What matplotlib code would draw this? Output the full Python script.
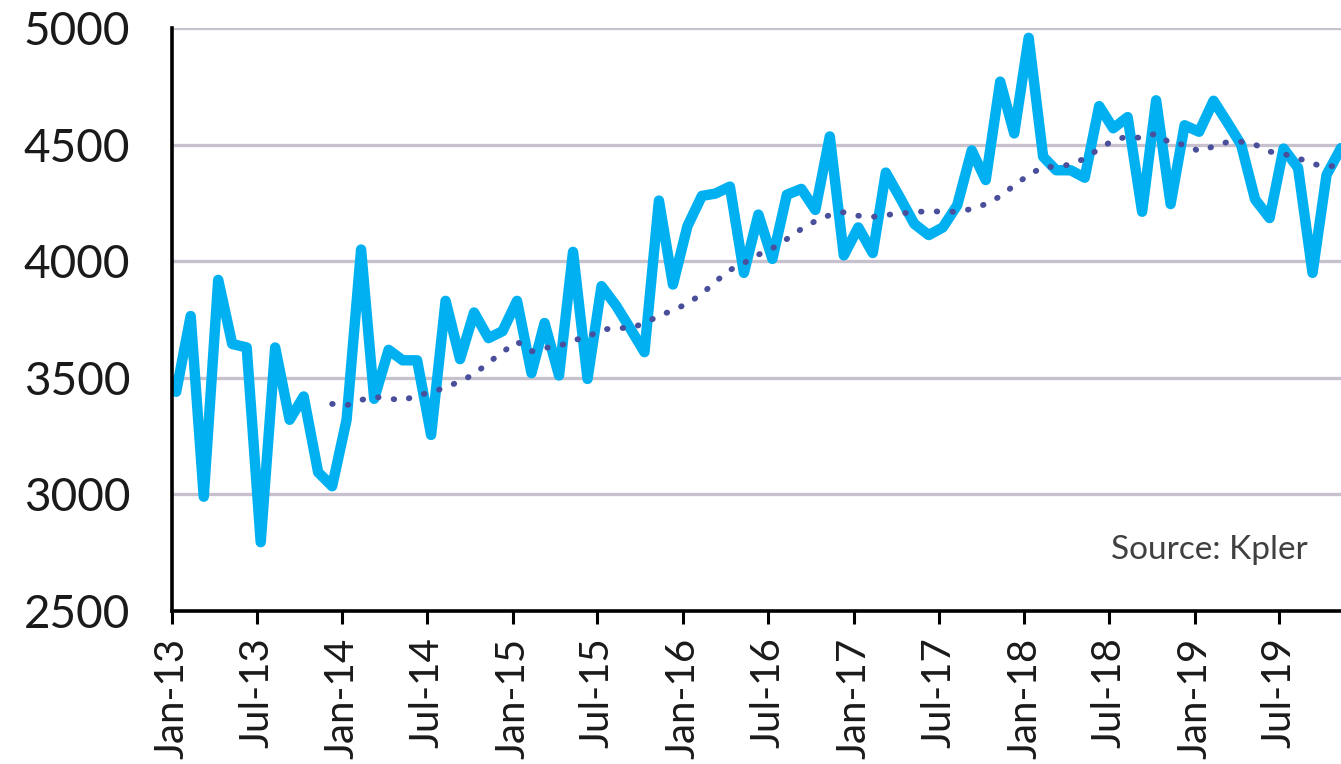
import matplotlib
matplotlib.use("Agg")
import matplotlib.pyplot as plt
import matplotlib.dates as mdates
import pandas as pd

# monthly values, Jan-13 .. Nov-19
values = [
    3440, 3765, 2990, 3920, 3645, 3630, 2795, 3630, 3320, 3420, 3095, 3035,
    3320, 4050, 3410, 3620, 3575, 3575, 3255, 3830, 3580, 3780, 3670, 3700,
    3830, 3520, 3735, 3510, 4040, 3495, 3893, 3810, 3710, 3610, 4260, 3900,
    4150, 4280, 4290, 4320, 3950, 4200, 4010, 4285, 4310, 4220, 4535, 4025,
    4145, 4035, 4380, 4270, 4160, 4112, 4145, 4240, 4475, 4348, 4770, 4548,
    4958, 4448, 4390, 4390, 4358, 4665, 4570, 4618, 4212, 4690, 4245, 4583,
    4555, 4688, 4600, 4500, 4265, 4185, 4483, 4400, 3950, 4370, 4485,
]

# dotted trend, starts Dec-13
trend = [
    3388,
    3382, 3405, 3418, 3412, 3402, 3425, 3437, 3459, 3485, 3515, 3565, 3610,
    3655, 3613, 3628, 3636, 3660, 3676, 3705, 3715, 3712, 3735, 3765, 3790,
    3818, 3860, 3912, 3962, 3992, 4028, 4055, 4095, 4138, 4172, 4198, 4210,
    4195, 4190, 4198, 4205, 4210, 4215, 4212, 4212, 4224, 4245, 4278, 4325,
    4370, 4404, 4405, 4415, 4440, 4482, 4518, 4535, 4528, 4548, 4505, 4500,
    4472, 4492, 4510, 4512, 4500, 4470, 4460, 4442, 4418, 4404, 4415,
]

months = pd.date_range("2013-01-01", periods=len(values), freq="MS")
x = months + pd.Timedelta(days=9)
x_trend = x[len(values) - len(trend):]

yticks = [2500, 3000, 3500, 4000, 4500, 5000]

plt.rcParams["font.family"] = ["Lato", "DejaVu Sans"]

fig = plt.figure(figsize=(13.41, 7.64), dpi=100)
ax = fig.add_axes([172 / 1341, 1 - 611 / 764, 1 - 172 / 1341, (611 - 28) / 764])

for y in yticks[1:]:
    ax.axhline(y, color="#c6c1cc", lw=2.4, zorder=0)

ax.plot(x, values, color="#00b0f0", lw=7.5, solid_joinstyle="round",
        solid_capstyle="round", zorder=2)
ax.plot(x_trend, trend, color="#4a4f9c", lw=4.2, linestyle=(0, (0.1, 2.6)),
        dash_capstyle="round", zorder=3)

ax.set_ylim(2500, 5000)
ax.set_yticks(yticks)
ax.set_xlim(months[0], x[-1])
ax.set_xticks(months[::6])
ax.xaxis.set_major_formatter(mdates.DateFormatter("%b-%y"))

for side in ["top", "right"]:
    ax.spines[side].set_visible(False)
ax.spines["left"].set_linewidth(2.6)
ax.spines["bottom"].set_linewidth(2.6)

ax.tick_params(axis="y", length=0, pad=30, labelsize=33, labelcolor="#1a1a1a")
ax.tick_params(axis="x", direction="out", length=9, width=2.2, pad=10,
               labelsize=29, labelrotation=90, labelcolor="#1a1a1a")

fig.text(1308 / 1341, 1 - 550 / 764, "Source: Kpler", ha="right", va="center",
         fontsize=24, color="#404040")

fig.savefig("out.png", dpi=100)
